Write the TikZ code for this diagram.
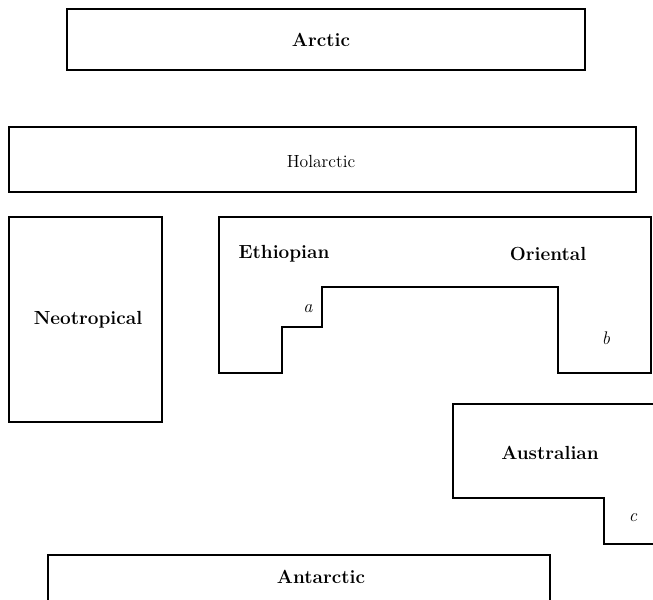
\documentclass[tikz,border=0pt]{standalone}
\begin{document}
\begin{tikzpicture}[x=0.025cm,y=-0.025cm,line width=0.9pt,
  region/.style={font=\fontsize{13.5}{16}\selectfont\bfseries},
  zonelabel/.style={font=\fontsize{13}{15}\selectfont\itshape}]
\useasboundingbox (0,0) rectangle (653,600);
\clip (0,0) rectangle (653,600);

% Arctic and Holarctic bands
\draw (67,9) rectangle (585,70);
\node[region] (arctic) at (321,40) {Arctic};
\draw (9,127) rectangle (636,192);
\node[font=\fontsize{12.5}{15}\selectfont] (holarctic) at (321,161) {Holarctic};

% Neotropical
\draw (9,217) rectangle (162,422);
\node[region] (neotropical) at (88,320) {Neotropical};

% Ethiopian and Oriental, one stepped outline
\draw (219,217) -- (651,217) -- (651,373) -- (558,373) -- (558,287)
  -- (322,287) -- (322,327) -- (282,327) -- (282,373) -- (219,373) -- cycle;
\node[region] (ethiopian) at (284,254) {Ethiopian};
\node[region] (oriental) at (548,254) {Oriental};
\node[zonelabel] (a) at (308,309) {a};
\node[zonelabel] (b) at (606,338) {b};

% Australian
\draw (670,404) -- (453,404) -- (453,498) -- (604,498) -- (604,544) -- (670,544);
\node[region] (australian) at (550,453) {Australian};
\node[zonelabel] (c) at (633,518) {c};

% Antarctic
\draw (48,555) rectangle (550,640);
\node[region] (antarctic) at (321,577) {Antarctic};
\end{tikzpicture}
\end{document}
